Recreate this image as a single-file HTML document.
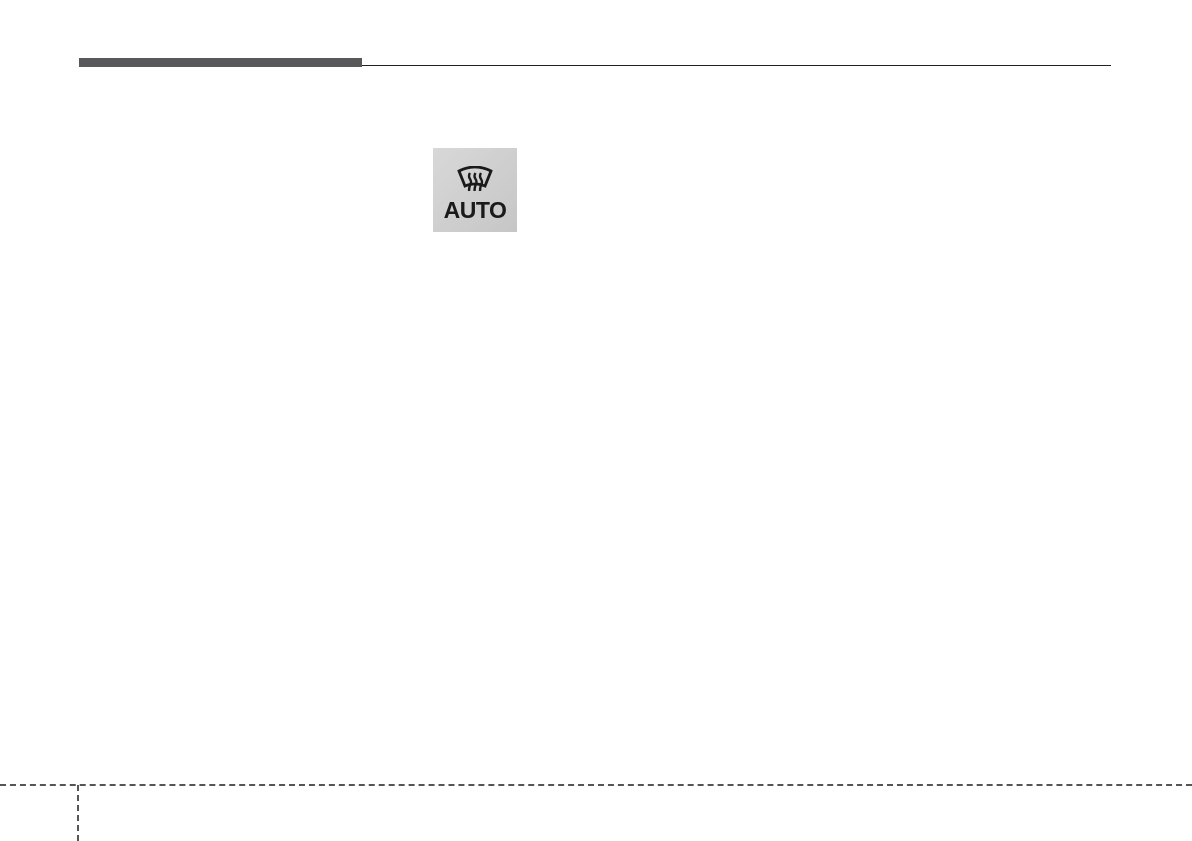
<!DOCTYPE html>
<html><head><meta charset="utf-8"><style>
html,body{margin:0;padding:0;background:#fff;}
body{width:1192px;height:841px;position:relative;overflow:hidden;font-family:"Liberation Sans",sans-serif;}
.bar{position:absolute;left:79px;top:58px;width:283px;height:9px;background:#58585a;}
.line{position:absolute;left:362px;top:65px;width:749px;height:1px;background:#222;}
.hd{position:absolute;left:0;top:784px;width:1192px;height:0;border-top:2px dashed #555;}
.vd{position:absolute;left:77px;top:785px;width:0;height:56px;border-left:2px dashed #555;}
.icon{position:absolute;left:433px;top:148px;width:84px;height:84px;background:linear-gradient(135deg,#d8d8d8,#c6c6c6);}
.auto{position:absolute;left:0;width:84px;top:49px;text-align:center;font-size:23px;font-weight:bold;color:#1a1a1a;letter-spacing:-0.5px;line-height:26px;}
</style></head><body>
<div class="bar"></div><div class="line"></div>
<div class="icon">
<svg style="position:absolute;left:24px;top:18px" width="36" height="28" viewBox="0 0 36 28">
<path d="M2 5 Q18 -3 34 5 L28 20 Q18 16 8 20 Z" fill="none" stroke="#1a1a1a" stroke-width="2.8"/>
<g fill="none" stroke="#1a1a1a" stroke-width="2.4">
<path d="M13 7 q-2 3 0 6 q2 3 0 6 q-1 3 -1 6"/>
<path d="M18.5 7 q-2 3 0 6 q2 3 0 6 q-1 3 -1 6"/>
<path d="M24 7 q-2 3 0 6 q2 3 0 6 q-1 3 -1 6"/>
</g></svg>
<div class="auto">AUTO</div>
</div>
<div class="hd"></div><div class="vd"></div>
</body></html>
